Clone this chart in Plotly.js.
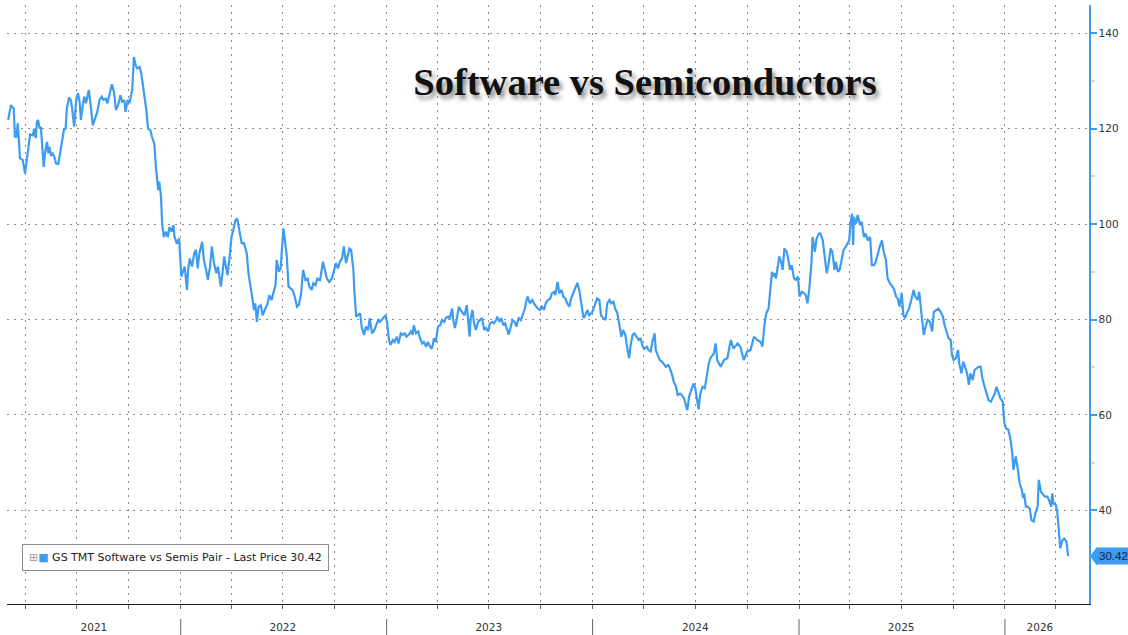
<!DOCTYPE html>
<html>
<head>
<meta charset="utf-8">
<script src="https://cdn.plot.ly/plotly-3.0.1.min.js"></script>
<style>html,body{margin:0;padding:0;background:#fff;}#chart{width:1128px;height:635px;}</style>
</head>
<body>
<div id="chart"></div>
<script>
// ---- DATA ----
const dates2021 = ['2021-03-01','2021-03-06','2021-03-11','2021-03-13','2021-03-16','2021-03-18','2021-03-20','2021-03-22','2021-03-27','2021-03-31',
'2021-04-02','2021-04-07','2021-04-09','2021-04-14','2021-04-16','2021-04-19','2021-04-21','2021-04-23','2021-04-26','2021-04-28','2021-04-30',
'2021-05-03','2021-05-06','2021-05-09','2021-05-11','2021-05-13','2021-05-16','2021-05-19','2021-05-22','2021-05-25','2021-05-29',
'2021-06-01','2021-06-04','2021-06-06','2021-06-08','2021-06-11','2021-06-13','2021-06-17','2021-06-20','2021-06-22','2021-06-26','2021-06-30',
'2021-07-03','2021-07-06','2021-07-08','2021-07-11','2021-07-14','2021-07-17','2021-07-22','2021-07-26','2021-07-29',
'2021-08-02','2021-08-06','2021-08-10','2021-08-14','2021-08-17','2021-08-21','2021-08-24','2021-08-28',
'2021-09-01','2021-09-05','2021-09-08','2021-09-12','2021-09-16','2021-09-19','2021-09-23','2021-09-25','2021-09-29',
'2021-10-02','2021-10-07','2021-10-10','2021-10-13','2021-10-16','2021-10-20','2021-10-23','2021-10-27','2021-10-29',
'2021-11-01','2021-11-04','2021-11-08','2021-11-11','2021-11-15','2021-11-18','2021-11-22','2021-11-24','2021-11-27','2021-11-29',
'2021-12-02','2021-12-06','2021-12-09','2021-12-12','2021-12-16','2021-12-19','2021-12-21','2021-12-25','2021-12-29','2021-12-31'];
const values2021 = [121.8,124.9,124.2,118.3,118.3,121.1,117.6,113.8,113.4,110.6,
112.4,117.6,118.8,118.6,120.0,118.0,121.4,121.8,120.0,120.4,117.6,
112.0,115.5,117.2,114.8,116.2,114.5,114.8,114.1,112.7,112.6,
114.8,117.2,119.0,119.8,120.0,124.2,126.5,126.0,124.6,120.4,126.3,
127.4,125.3,121.8,124.6,126.7,125.3,128.1,124.2,120.7,
122.1,123.5,126.0,126.7,126.0,126.3,125.3,127.4,
129.3,127.4,123.9,124.9,127.0,125.6,126.0,123.5,126.0,
125.3,128.1,135.0,133.3,132.6,132.9,131.6,128.1,127.4,
123.9,120.0,119.7,118.3,116.9,112.0,107.1,108.9,105.7,100.1,
97.3,98.4,97.3,99.4,98.4,99.8,97.3,95.9,97.0,93.2];

const dates2022 = ['2022-01-02','2022-01-06','2022-01-08','2022-01-12','2022-01-14','2022-01-17','2022-01-21','2022-01-25','2022-01-28','2022-01-31',
'2022-02-03','2022-02-08','2022-02-11','2022-02-15','2022-02-18','2022-02-22','2022-02-25',
'2022-03-01','2022-03-05','2022-03-08','2022-03-13','2022-03-16','2022-03-19','2022-03-22','2022-03-25','2022-03-28',
'2022-04-01','2022-04-04','2022-04-08','2022-04-11','2022-04-15','2022-04-19','2022-04-23','2022-04-28',
'2022-05-01','2022-05-05','2022-05-09','2022-05-11','2022-05-13','2022-05-16','2022-05-19','2022-05-23','2022-05-26','2022-05-30',
'2022-06-04','2022-06-07','2022-06-11','2022-06-14','2022-06-18','2022-06-20','2022-06-24','2022-06-27','2022-06-30',
'2022-07-02','2022-07-04','2022-07-08','2022-07-11','2022-07-15','2022-07-18','2022-07-22','2022-07-26','2022-07-29',
'2022-08-02','2022-08-06','2022-08-10','2022-08-14','2022-08-17','2022-08-21','2022-08-24','2022-08-28','2022-08-31',
'2022-09-05','2022-09-10','2022-09-13','2022-09-17','2022-09-21','2022-09-26','2022-09-30',
'2022-10-03','2022-10-07','2022-10-10','2022-10-14','2022-10-17','2022-10-21','2022-10-24','2022-10-27','2022-10-30',
'2022-11-03','2022-11-05','2022-11-08','2022-11-11','2022-11-15','2022-11-18','2022-11-22','2022-11-25','2022-11-29',
'2022-12-02','2022-12-06','2022-12-09','2022-12-13','2022-12-17','2022-12-20','2022-12-25','2022-12-30'];
const values2022 = [89.0,90.4,91.1,86.2,90.4,92.8,91.1,93.9,94.6,90.7,
93.9,96.3,92.5,90.4,88.3,91.1,95.3,
91.8,89.7,91.1,86.9,89.7,93.2,91.1,89.3,92.5,
97.3,98.7,100.8,101.2,98.4,96.0,96.0,93.9,
89.7,86.2,83.4,82.0,83.4,79.5,82.7,83.0,80.9,82.0,
83.4,85.1,84.1,85.5,87.2,92.5,90.0,90.7,96.6,
99.1,97.3,93.2,86.9,86.5,86.2,84.8,82.7,83.0,
85.1,90.4,88.3,88.6,86.9,86.2,87.6,87.2,88.6,
88.3,92.1,90.7,88.6,87.9,88.6,90.4,
91.8,90.7,92.1,92.8,95.3,91.8,93.2,94.9,94.6,
90.4,85.5,80.6,80.9,81.3,78.2,76.8,78.5,77.8,
80.3,77.1,77.5,78.8,79.9,79.5,80.3,80.9];

const dates2023 = ['2023-01-02','2023-01-05','2023-01-08','2023-01-12','2023-01-15','2023-01-19','2023-01-22','2023-01-26','2023-01-29',
'2023-02-02','2023-02-05','2023-02-09','2023-02-13','2023-02-16','2023-02-18','2023-02-22','2023-02-26',
'2023-03-01','2023-03-05','2023-03-08','2023-03-12','2023-03-15','2023-03-19','2023-03-22','2023-03-26','2023-03-29',
'2023-04-02','2023-04-06','2023-04-09','2023-04-13','2023-04-16','2023-04-20','2023-04-23','2023-04-27','2023-04-29',
'2023-05-02','2023-05-05','2023-05-09','2023-05-12','2023-05-16','2023-05-19','2023-05-23','2023-05-25','2023-05-28','2023-05-30',
'2023-06-02','2023-06-05','2023-06-08','2023-06-12','2023-06-15','2023-06-19','2023-06-23','2023-06-26','2023-06-30',
'2023-07-03','2023-07-07','2023-07-10','2023-07-14','2023-07-16','2023-07-20','2023-07-23','2023-07-27','2023-07-30',
'2023-08-03','2023-08-05','2023-08-09','2023-08-12','2023-08-16','2023-08-19','2023-08-23','2023-08-27','2023-08-30',
'2023-09-03','2023-09-06','2023-09-08','2023-09-12','2023-09-16','2023-09-19','2023-09-23','2023-09-26','2023-09-30',
'2023-10-03','2023-10-07','2023-10-10','2023-10-14','2023-10-18','2023-10-21','2023-10-25','2023-10-27','2023-10-31',
'2023-11-03','2023-11-07','2023-11-10','2023-11-14','2023-11-17','2023-11-21','2023-11-24','2023-11-28',
'2023-12-02','2023-12-05','2023-12-09','2023-12-12','2023-12-16','2023-12-19','2023-12-23','2023-12-26','2023-12-30'];
const values2023 = [79.2,75.7,74.7,75.7,75.3,76.4,75.0,77.1,76.8,
77.1,76.4,76.8,77.5,76.8,78.8,77.1,77.5,
76.1,75.0,75.3,74.3,75.3,74.3,73.9,76.1,75.3,
78.5,78.8,79.9,79.5,80.3,80.6,80.3,82.3,79.9,
78.2,79.9,82.7,82.0,81.3,80.9,83.0,80.6,76.4,80.3,
82.0,79.2,77.8,79.5,79.9,80.3,77.8,78.2,77.5,
79.2,79.5,79.2,79.9,80.6,79.5,80.3,78.8,79.2,
77.8,76.8,78.5,79.9,79.5,78.5,80.3,79.9,80.9,
82.3,84.1,84.8,83.4,84.1,83.4,82.7,82.3,82.0,
82.7,82.0,83.4,84.1,84.4,85.5,85.8,85.1,87.9,
85.5,86.2,84.8,84.4,83.4,82.7,84.4,85.5,
86.5,87.7,85.8,83.4,80.3,80.9,82.0,80.9,81.3];

const dates2024 = ['2024-01-02','2024-01-06','2024-01-09','2024-01-13','2024-01-16','2024-01-20','2024-01-24','2024-01-27','2024-01-31',
'2024-02-03','2024-02-07','2024-02-10','2024-02-14','2024-02-17','2024-02-21','2024-02-24','2024-02-28',
'2024-03-03','2024-03-06','2024-03-08','2024-03-12','2024-03-15','2024-03-19','2024-03-23','2024-03-26','2024-03-30',
'2024-04-02','2024-04-06','2024-04-09','2024-04-13','2024-04-16','2024-04-20','2024-04-22','2024-04-26','2024-04-29',
'2024-05-03','2024-05-06','2024-05-10','2024-05-14','2024-05-17','2024-05-21','2024-05-24','2024-05-28','2024-05-31',
'2024-06-04','2024-06-07','2024-06-11','2024-06-14','2024-06-17','2024-06-20','2024-06-24','2024-06-28',
'2024-07-01','2024-07-05','2024-07-07','2024-07-10','2024-07-14','2024-07-18','2024-07-21','2024-07-25','2024-07-28',
'2024-08-03','2024-08-06','2024-08-09','2024-08-15','2024-08-21','2024-08-27',
'2024-09-02','2024-09-07','2024-09-14','2024-09-19','2024-09-25',
'2024-10-01','2024-10-07','2024-10-13','2024-10-19','2024-10-25','2024-10-28',
'2024-11-01','2024-11-04','2024-11-08','2024-11-11','2024-11-14','2024-11-16','2024-11-19','2024-11-21','2024-11-24','2024-11-27','2024-11-30',
'2024-12-03','2024-12-06','2024-12-10','2024-12-12','2024-12-16','2024-12-19','2024-12-23','2024-12-26','2024-12-30'];
const values2024 = [82.0,83.4,84.4,84.1,80.9,80.3,79.9,83.4,84.1,
83.4,83.7,82.3,81.3,79.2,76.4,77.8,76.8,
73.6,71.9,74.3,76.8,77.1,76.4,75.7,76.1,74.3,
73.9,74.3,73.6,73.3,75.3,77.1,73.6,72.2,71.5,
71.2,70.8,70.1,70.5,69.8,68.4,67.0,65.9,64.2,
64.5,64.2,63.5,62.1,61.0,63.8,65.2,66.6,
65.6,62.4,61.2,64.5,65.9,65.6,68.0,70.8,71.9,
72.9,75.0,71.5,70.1,71.5,71.9,
75.7,73.9,75.0,74.3,71.5,
73.3,73.6,76.4,75.7,75.3,74.3,
79.2,81.3,82.3,86.2,90.0,89.0,89.7,88.6,91.1,93.2,92.1,
90.4,94.9,94.2,93.2,90.4,91.4,88.6,88.3,89.0];

const dates2025 = ['2025-01-02','2025-01-06','2025-01-10','2025-01-13','2025-01-16','2025-01-19','2025-01-23','2025-01-25','2025-01-29',
'2025-02-01','2025-02-05','2025-02-08','2025-02-12','2025-02-15','2025-02-19','2025-02-22','2025-02-26',
'2025-03-01','2025-03-05','2025-03-07','2025-03-11','2025-03-14','2025-03-18','2025-03-21','2025-03-25','2025-03-29','2025-03-31',
'2025-04-02','2025-04-05','2025-04-07','2025-04-08','2025-04-12','2025-04-15','2025-04-19','2025-04-22','2025-04-26','2025-04-29',
'2025-05-03','2025-05-07','2025-05-10','2025-05-14','2025-05-17','2025-05-21','2025-05-24','2025-05-28','2025-05-31',
'2025-06-04','2025-06-07','2025-06-11','2025-06-15','2025-06-18','2025-06-22','2025-06-25','2025-06-28','2025-06-30',
'2025-07-02','2025-07-05','2025-07-08','2025-07-12','2025-07-15','2025-07-19','2025-07-23','2025-07-26','2025-07-30',
'2025-08-02','2025-08-05','2025-08-08','2025-08-10','2025-08-14','2025-08-17','2025-08-21','2025-08-25','2025-08-28',
'2025-09-02','2025-09-05','2025-09-09','2025-09-13','2025-09-16','2025-09-20','2025-09-23','2025-09-27','2025-09-29',
'2025-10-02','2025-10-06','2025-10-10','2025-10-12','2025-10-16','2025-10-19','2025-10-23','2025-10-26','2025-10-29',
'2025-11-01','2025-11-05','2025-11-08','2025-11-12','2025-11-15','2025-11-19','2025-11-22','2025-11-26','2025-11-30',
'2025-12-03','2025-12-07','2025-12-10','2025-12-14','2025-12-17','2025-12-21','2025-12-24','2025-12-28'];
const values2025 = [84.8,85.8,85.5,85.1,83.4,86.2,91.8,97.3,94.2,
96.9,98.0,98.0,96.6,93.2,89.7,91.4,94.9,
94.2,90.4,92.1,90.0,90.4,93.2,94.6,95.3,96.3,96.6,
100.1,102.2,95.6,101.5,100.1,101.9,99.8,100.5,97.3,98.0,
96.6,97.3,91.4,91.4,92.1,94.2,95.3,96.6,94.2,
92.5,88.6,87.6,86.9,86.5,84.8,84.4,82.7,84.8,
85.5,80.9,80.3,81.6,82.3,84.1,86.2,84.8,84.1,
85.8,82.7,79.9,76.8,78.8,79.9,79.5,77.5,81.6,
82.0,82.3,81.6,80.6,78.8,77.5,76.1,75.7,72.6,
71.5,71.9,73.6,70.8,68.7,71.2,69.8,68.7,66.3,
68.7,67.3,69.4,69.8,70.1,70.1,67.7,65.9,64.5,
63.1,62.8,63.5,64.5,65.9,64.5,63.5,62.8];

const dates2026 = ['2025-12-31','2026-01-03','2026-01-07','2026-01-11','2026-01-14','2026-01-16','2026-01-20','2026-01-24','2026-01-27','2026-01-31',
'2026-02-02','2026-02-04','2026-02-07','2026-02-10','2026-02-14','2026-02-17','2026-02-21','2026-02-24','2026-02-28',
'2026-03-02','2026-03-06','2026-03-10','2026-03-13','2026-03-17','2026-03-20','2026-03-24','2026-03-26','2026-03-28',
'2026-04-01','2026-04-04','2026-04-07','2026-04-09','2026-04-13','2026-04-16','2026-04-20','2026-04-23'];
const values2026 = [58.3,57.2,56.9,54.8,52.0,48.5,51.3,48.5,45.7,44.3,
42.6,43.6,40.8,40.8,40.4,38.0,37.7,39.4,40.8,
46.4,43.9,43.3,42.9,42.9,42.2,40.8,43.6,41.5,
41.2,39.4,35.2,32.1,33.8,34.1,33.5,30.42];

const seriesName = 'GS TMT Software vs Semis Pair';
const chartTitle = 'Software vs Semiconductors';
const yearLabels = ['2021','2022','2023','2024','2025','2026'];
const yearLabelDates = ['2021-07-31','2022-07-01','2023-07-01','2024-07-01','2025-07-01','2026-03-04'];
const yearStarts = ['2022-01-01','2023-01-01','2024-01-01','2025-01-01','2026-01-01'];
const yTicks = [40,60,80,100,120,140];
const yMinorTicks = [50,70,90,110,130];

// ---- BUILD ----
const dates = [].concat(dates2021, dates2022, dates2023, dates2024, dates2025, dates2026);
const values = [].concat(values2021, values2022, values2023, values2024, values2025, values2026);
const lastPrice = values[values.length - 1];

const W = 1128, H = 635;
const M = {l: 7, r: 39, t: 5, b: 31};
const plotW = W - M.l - M.r, plotH = H - M.t - M.b;
const xRange = ['2021-02-27', '2026-05-30'];
const yRange = [20.4, 145.9];
const blue = '#3d9cf0';
const gridStyle = {gridcolor: '#8a8a8a', griddash: '2px,5px', gridwidth: 1};
const tickFont = {family: 'DejaVu Sans, Verdana, sans-serif', size: 10.5, color: '#333'};

const trace = {
  type: 'scatter', mode: 'lines', x: dates, y: values, name: seriesName,
  line: {color: blue, width: 2.2}, showlegend: false, hoverinfo: 'x+y'
};

const yPerPx = (yRange[1] - yRange[0]) / plotH;
const tagHalf = 9.5 * yPerPx;
const shapes = yearStarts.map(d => ({
  type: 'line', xref: 'x', yref: 'paper', x0: d, x1: d,
  y0: -15 / plotH, y1: -32 / plotH, line: {color: '#666', width: 1}
}));
shapes.push({
  type: 'path', xref: 'paper', yref: 'y', fillcolor: blue, line: {width: 0},
  path: `M ${1 + 1/plotW} ${lastPrice} L ${1 + 8/plotW} ${lastPrice + tagHalf} L ${1 + 8/plotW} ${lastPrice - tagHalf} Z`
});

const layout = {
  width: W, height: H, margin: M,
  paper_bgcolor: '#fff', plot_bgcolor: '#fff',
  showlegend: false,
  title: {
    text: chartTitle, xref: 'container', yref: 'container',
    x: 645 / W, xanchor: 'center', y: 1 - 82 / H, yanchor: 'middle',
    font: {family: 'Liberation Serif, Times New Roman, serif', size: 38.5, weight: 700, color: '#111',
           shadow: '3px 4px 4px rgba(0,0,0,0.45)'}
  },
  xaxis: {
    type: 'date', range: xRange, anchor: 'y',
    tickmode: 'array', tickvals: yearLabelDates, ticktext: yearLabels,
    ticks: 'outside', ticklen: 13, tickcolor: 'rgba(0,0,0,0)',
    tickfont: tickFont, showgrid: false, zeroline: false,
    showline: true, linecolor: '#222', linewidth: 1, fixedrange: true,
    minor: {tickmode: 'linear', tick0: '2021-01-01', dtick: 'M3', ticks: 'outside', ticklen: 4,
            tickcolor: '#666', showgrid: true, ...gridStyle}
  },
  yaxis: {
    side: 'right', range: yRange, tickmode: 'array', tickvals: yTicks,
    ticks: 'outside', ticklen: 6, tickwidth: 2, tickcolor: blue,
    showline: true, linecolor: blue, linewidth: 1.5,
    showgrid: true, ...gridStyle, zeroline: false,
    tickfont: tickFont, fixedrange: true,
    minor: {tickmode: 'array', tickvals: yMinorTicks, ticks: 'outside', ticklen: 4, tickcolor: '#d8d8d8', showgrid: false}
  },
  shapes: shapes,
  annotations: [
    {
      xref: 'paper', yref: 'paper', x: (22 - M.l) / plotW, y: (H - M.b - 557) / plotH,
      xanchor: 'left', yanchor: 'middle', showarrow: false, align: 'left',
      text: '<span style="color:#999">⊞</span><span style="color:' + blue + '">■</span> ' + seriesName + ' - Last Price ' + lastPrice.toFixed(2),
      font: {family: 'DejaVu Sans, Verdana, sans-serif', size: 11, color: '#222'},
      bgcolor: '#fff', bordercolor: '#8c8c8c', borderwidth: 1, borderpad: 6
    },
    {
      xref: 'paper', yref: 'y', x: 1, y: lastPrice, xanchor: 'left', yanchor: 'middle',
      xshift: 7, showarrow: false, text: lastPrice.toFixed(2),
      font: {family: 'Liberation Sans, Arial, sans-serif', size: 11.5, color: '#0f2540'},
      bgcolor: blue, borderpad: 2
    }
  ]
};

Plotly.newPlot('chart', [trace], layout, {displayModeBar: false, staticPlot: true});
</script>
</body>
</html>
